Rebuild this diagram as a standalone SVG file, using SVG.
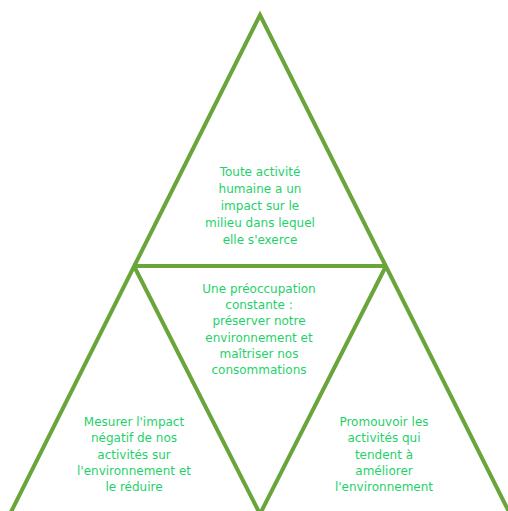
<svg xmlns="http://www.w3.org/2000/svg" width="508" height="511" viewBox="0 0 508 511">
<style>
.ln{stroke:#6aa53b;stroke-width:4;fill:none;stroke-linejoin:miter}
.t{font-family:"DejaVu Sans","Liberation Sans",sans-serif;font-size:12px;fill:#1fd16a;text-anchor:middle}
</style>
<rect width="508" height="511" fill="#ffffff"/>
<g id="connectors">
<path class="ln" d="M11,512 L260,15 L509,512"/>
<path class="ln" d="M134,266 L386,266"/>
<path class="ln" d="M134,266 L260,514 L386,266"/>
</g>
<g id="top">
<text class="t" x="260" y="176">Toute activité</text>
<text class="t" x="260" y="193">humaine a un</text>
<text class="t" x="260" y="210">impact sur le</text>
<text class="t" x="260" y="227">milieu dans lequel</text>
<text class="t" x="260" y="244">elle s'exerce</text>
</g>
<g id="middle">
<text class="t" x="259" y="293">Une préoccupation</text>
<text class="t" x="259" y="309">constante :</text>
<text class="t" x="259" y="325">préserver notre</text>
<text class="t" x="259" y="342">environnement et</text>
<text class="t" x="259" y="358">maîtriser nos</text>
<text class="t" x="259" y="374">consommations</text>
</g>
<g id="left">
<text class="t" x="134" y="426">Mesurer l'impact</text>
<text class="t" x="134" y="442">négatif de nos</text>
<text class="t" x="134" y="459">activités sur</text>
<text class="t" x="134" y="475">l'environnement et</text>
<text class="t" x="134" y="491">le réduire</text>
</g>
<g id="right">
<text class="t" x="384" y="426">Promouvoir les</text>
<text class="t" x="384" y="442">activités qui</text>
<text class="t" x="384" y="459">tendent à</text>
<text class="t" x="384" y="475">améliorer</text>
<text class="t" x="384" y="491">l'environnement</text>
</g>
</svg>
